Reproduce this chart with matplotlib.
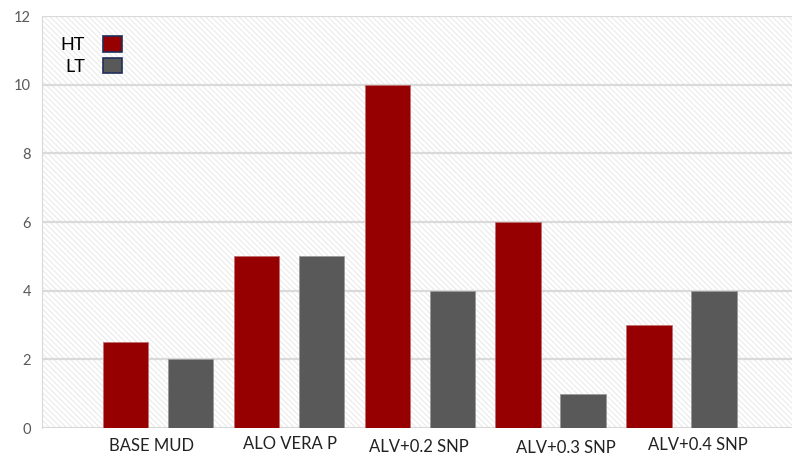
import matplotlib.pyplot as plt
from matplotlib.patches import Patch, Rectangle
import numpy as np

categories = ["BASE MUD", "ALO VERA P", "ALV+0.2 SNP", "ALV+0.3 SNP", "ALV+0.4 SNP"]
ht = [2.5, 5, 10, 6, 3]
lt = [2, 5, 4, 1, 4]
yticks = [0, 2, 4, 6, 8, 10, 12]

RED = "#960000"
GREY = "#595959"

plt.rcParams["font.family"] = ["Lato", "DejaVu Sans"]
plt.rcParams["hatch.linewidth"] = 0.7

fig = plt.figure(figsize=(7.92, 4.55), dpi=100)
ax = fig.add_axes([42 / 792, 27 / 455, 750 / 792, 412 / 455])

x = np.arange(len(categories))
w = 0.348
off = 0.248

# hatched background
ax.add_patch(Rectangle((0, 0), 1, 1, transform=ax.transAxes, facecolor="white",
                       edgecolor="#e8e8e8", hatch="\\\\\\\\\\\\", lw=0, zorder=0))

ax.bar(x - off, ht, w, color=RED, edgecolor="#c07070", lw=0.6, zorder=3)
ax.bar(x + off, lt, w, color=GREY, edgecolor="#9a9a9a", lw=0.6, zorder=3)

ax.set_xlim(-0.886, 4.843)
ax.set_ylim(0, 12)
ax.set_yticks(yticks)
ax.tick_params(axis="y", length=0, pad=8, labelsize=10.5, labelcolor="#595959")
ax.set_xticks([])
ax.grid(axis="y", color="#dadada", lw=1.6, zorder=1)
for s in ["top", "right", "bottom"]:
    ax.spines[s].set_visible(False)
ax.spines["left"].set_color("#d9d9d9")
ax.axhline(0, color="#d9d9d9", lw=1.2, zorder=2)

# staggered category labels (pixel offsets from group centre)
dx = [-6, 1, -1, 15, 16]
dy = [18, 16, 19, 20, 17]
for i, lab in enumerate(categories):
    ax.annotate(lab, xy=(x[i], 0), xycoords="data",
                xytext=(dx[i] * 0.72, -dy[i] * 0.72), textcoords="offset points",
                ha="center", va="center", fontsize=12, color="#222222",
                annotation_clip=False)

handles = [Patch(facecolor=RED, edgecolor="#1f2f5a", lw=1.2),
           Patch(facecolor=GREY, edgecolor="#1f2f5a", lw=1.2)]
ax.legend(handles, ["HT", "LT"], loc="upper left", bbox_to_anchor=(0.003, 0.99),
          frameon=False, markerfirst=False, fontsize=13, handlelength=1.05,
          handleheight=0.95, handletextpad=1.0, labelspacing=0.25)

fig.savefig("out.png", dpi=100)
